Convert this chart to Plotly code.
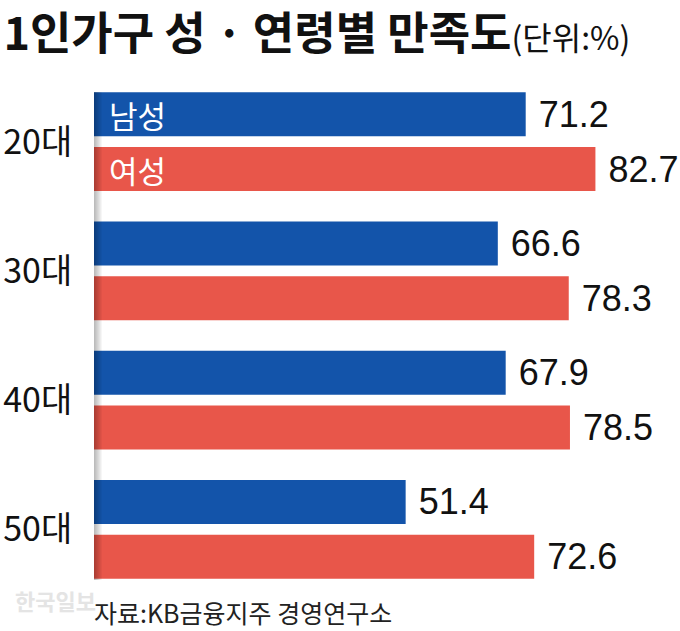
import plotly.graph_objects as go

categories = ["20대", "30대", "40대", "50대"]
male = [71.2, 66.6, 67.9, 51.4]
female = [82.7, 78.3, 78.5, 72.6]
series_names = ["남성", "여성"]

BLUE = "#1354aa"
RED = "#e8564a"
KR = "Noto Sans CJK KR"
NUM = "Liberation Sans"

fig = go.Figure()
for name, vals, col in [(series_names[0], male, BLUE), (series_names[1], female, RED)]:
    fig.add_trace(go.Bar(
        y=categories, x=vals, orientation="h", name=name,
        marker=dict(color=col, line=dict(width=0)),
        text=vals, texttemplate=" %{x:.1f}", textposition="outside",
        textfont=dict(family=NUM, size=36, color="#111"),
        constraintext="none", cliponaxis=False, hoverinfo="skip",
    ))

shapes = []
for k in range(1, 9):
    shapes.append(dict(type="rect", xref="paper", yref="paper",
                       x0=0, x1=k / 576, y0=0.027, y1=0.971,
                       fillcolor="black", opacity=0.035, line=dict(width=0),
                       layer="above"))

annotations = [
    dict(text=series_names[0], xref="paper", x=0, xshift=13, xanchor="left",
         yref="y", y=categories[0], yshift=27, yanchor="middle", showarrow=False,
         font=dict(family=KR, size=31, color="white")),
    dict(text=series_names[1], xref="paper", x=0, xshift=13, xanchor="left",
         yref="y", y=categories[0], yshift=-28, yanchor="middle", showarrow=False,
         font=dict(family=KR, size=31, color="white")),
    dict(text="<b>한국일보</b>", xref="paper", x=-0.14, xanchor="left",
         yref="paper", y=-0.012, yanchor="middle", showarrow=False,
         font=dict(family=KR, size=22, color="#e4e4e4")),
    dict(text="자료:KB금융지주 경영연구소", xref="paper", x=0, xshift=-2, xanchor="left",
         yref="paper", y=-0.035, yanchor="middle", showarrow=False,
         font=dict(family=KR, size=25, color="#222")),
]

fig.update_layout(
    width=680, height=631,
    margin=dict(l=94, r=10, t=77, b=37, autoexpand=False),
    paper_bgcolor="white", plot_bgcolor="white",
    barmode="group", bargap=0.149, bargroupgap=0.2,
    showlegend=False,
    title=dict(
        text="<b>1인가구 성 · 연령별 만족도</b><span style='font-size:32px;font-weight:normal'>(단위:%)</span>",
        x=0.005, xref="container", xanchor="left",
        y=0.946, yref="container", yanchor="middle",
        font=dict(family=KR, size=45, color="#111"),
    ),
    xaxis=dict(visible=False, range=[0, 95], automargin=False),
    yaxis=dict(range=[3.5, -0.5], showgrid=False, showline=False, zeroline=False,
               automargin=False,
               ticks="outside", ticklen=14, tickcolor="rgba(0,0,0,0)",
               tickfont=dict(family=KR, size=34, color="#111")),
    shapes=shapes, annotations=annotations,
)

fig.write_html("out.html", config={"displayModeBar": False},
               post_script="document.body.style.margin='0';")
